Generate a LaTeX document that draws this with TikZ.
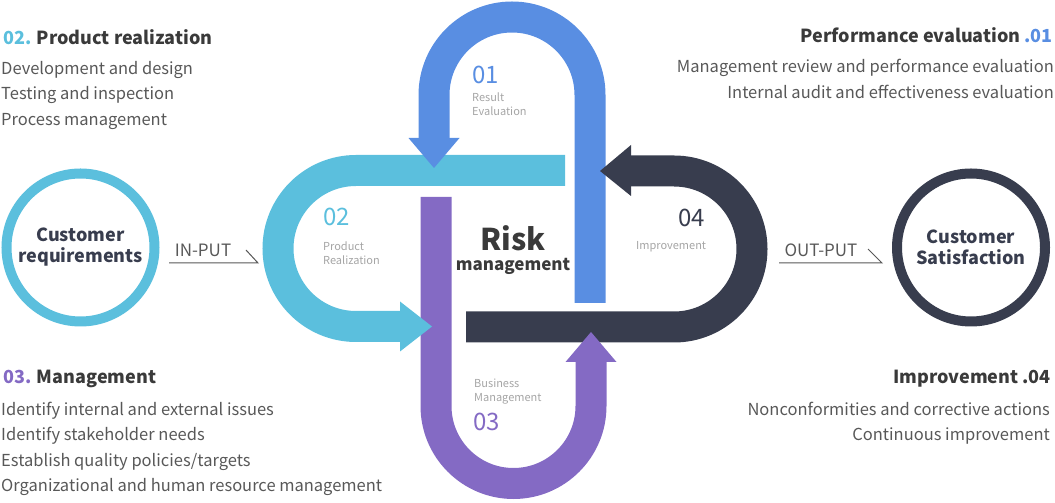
\documentclass[tikz,border=0pt]{standalone}
\usepackage{fontspec}
\setmainfont{Noto Sans CJK KR}
\usepackage{tikz}
\usetikzlibrary{arrows.meta,positioning,calc}
\definecolor{evalblue}{RGB}{89,142,226}
\definecolor{realcyan}{RGB}{91,191,221}
\definecolor{mgmtpurple}{RGB}{132,106,196}
\definecolor{impnavy}{RGB}{56,61,78}
\definecolor{headgray}{RGB}{58,58,58}
\definecolor{bodygray}{RGB}{88,88,88}
\definecolor{lblgray}{RGB}{165,165,165}

\begin{document}
\begin{tikzpicture}[x=1pt,y=1pt,
  band/.style={line width=31pt},
  ring/.style={circle,line width=10pt,minimum size=148pt,inner sep=0pt,align=center,text=impnavy,font=\fontsize{18}{21}\selectfont\bfseries},
  head/.style={inner sep=0pt,text=headgray,font=\fontsize{18}{22}\selectfont\bfseries},
  body/.style={inner sep=0pt,text=bodygray,font=\fontsize{16.5}{25.5}\selectfont},
  num/.style={inner sep=0pt,anchor=west,font=\fontsize{24}{24}\selectfont},
  lbl/.style={inner sep=0pt,anchor=west,align=left,text=lblgray,font=\fontsize{11}{14}\selectfont},
  io/.style={bodygray,line width=1pt}]
\useasboundingbox (0,0) rectangle (1055,503);
\draw[band,evalblue] (590,200) -- (590,408) arc[start angle=0,end angle=180,radius=78pt] -- (434,365);
\draw[band,realcyan] (565,332.5) -- (356,332.5) arc[start angle=90,end angle=270,radius=78pt] -- (400,176.5);
\draw[band,mgmtpurple] (436,306) -- (436,97) arc[start angle=180,end angle=360,radius=77.5pt] -- (591,141);
\draw[band,impnavy] (466,176) -- (674,176) arc[start angle=-90,end angle=90,radius=78pt] -- (631,332);
\fill[evalblue] (408.5,365) -- (459.5,365) -- (434,335) -- cycle;
\fill[realcyan] (400,201.5) -- (400,151.5) -- (432,176.5) -- cycle;
\fill[mgmtpurple] (565.5,141) -- (616.5,141) -- (591,171) -- cycle;
\fill[impnavy] (631,358) -- (631,307) -- (600,332) -- cycle;

\node[num,text=evalblue] (n01) at (472,428) {01};
\node[lbl] (l01) at (472,399) {Result\\Evaluation};
\node[num,text=realcyan] (n02) at (323,286) {02};
\node[lbl] (l02) at (323,250) {Product\\Realization};
\node[num,text=impnavy] (n04) at (678,285) {04};
\node[lbl] (l04) at (636,256) {Improvement};
\node[lbl] (l03) at (474,111) {Business\\Management};
\node[num,text=mgmtpurple] (n03) at (473,81) {03};
\node[inner sep=0pt,text=headgray,font=\fontsize{30}{30}\selectfont\bfseries] (risk) at (513,265) {Risk};
\node[inner sep=0pt,text=headgray,font=\fontsize{17}{17}\selectfont\bfseries] (riskm) at (513,237) {management};

\node[ring,draw=realcyan] (creq) at (80.5,255.5) {Customer\\requirements};
\node[ring,draw=impnavy] (csat) at (971,255.5) {Customer\\Satisfaction};
\coordinate (inA) at (169,240);
\coordinate (inB) at (258,240);
\coordinate (inC) at (246,253);
\draw[io] (inA) -- (inB) -- (inC);
\node[inner sep=0pt,text=bodygray,font=\fontsize{17}{17}\selectfont] (inlbl) at (203,253) {IN-PUT};
\coordinate (outA) at (779,240);
\coordinate (outB) at (882,240);
\coordinate (outC) at (868,254);
\draw[io] (outA) -- (outB) -- (outC);
\node[inner sep=0pt,text=bodygray,font=\fontsize{17}{17}\selectfont] (outlbl) at (821,253) {OUT-PUT};

\node[head,anchor=west] (h02) at (3,466) {{\color{realcyan}02.} Product realization};
\node[body,anchor=west,align=left] (b02) at (1,407.5) {Development and design\\Testing and inspection\\Process management};
\node[head,anchor=east] (h01) at (1053,468) {Performance evaluation {\color{evalblue}.01}};
\node[body,anchor=east,align=right] (b01) at (1054,424) {Management review and performance evaluation\\Internal audit and effectiveness evaluation};
\node[head,anchor=west] (h03) at (3,124) {{\color{mgmtpurple}03.} Management};
\node[body,anchor=west,align=left] (b03) at (1,54) {Identify internal and external issues\\Identify stakeholder needs\\Establish quality policies/targets\\Organizational and human resource management};
\node[head,anchor=east] (h04) at (1051,124) {Improvement .04};
\node[body,anchor=east,align=right] (b04) at (1050,80) {Nonconformities and corrective actions\\Continuous improvement};
\end{tikzpicture}
\end{document}
